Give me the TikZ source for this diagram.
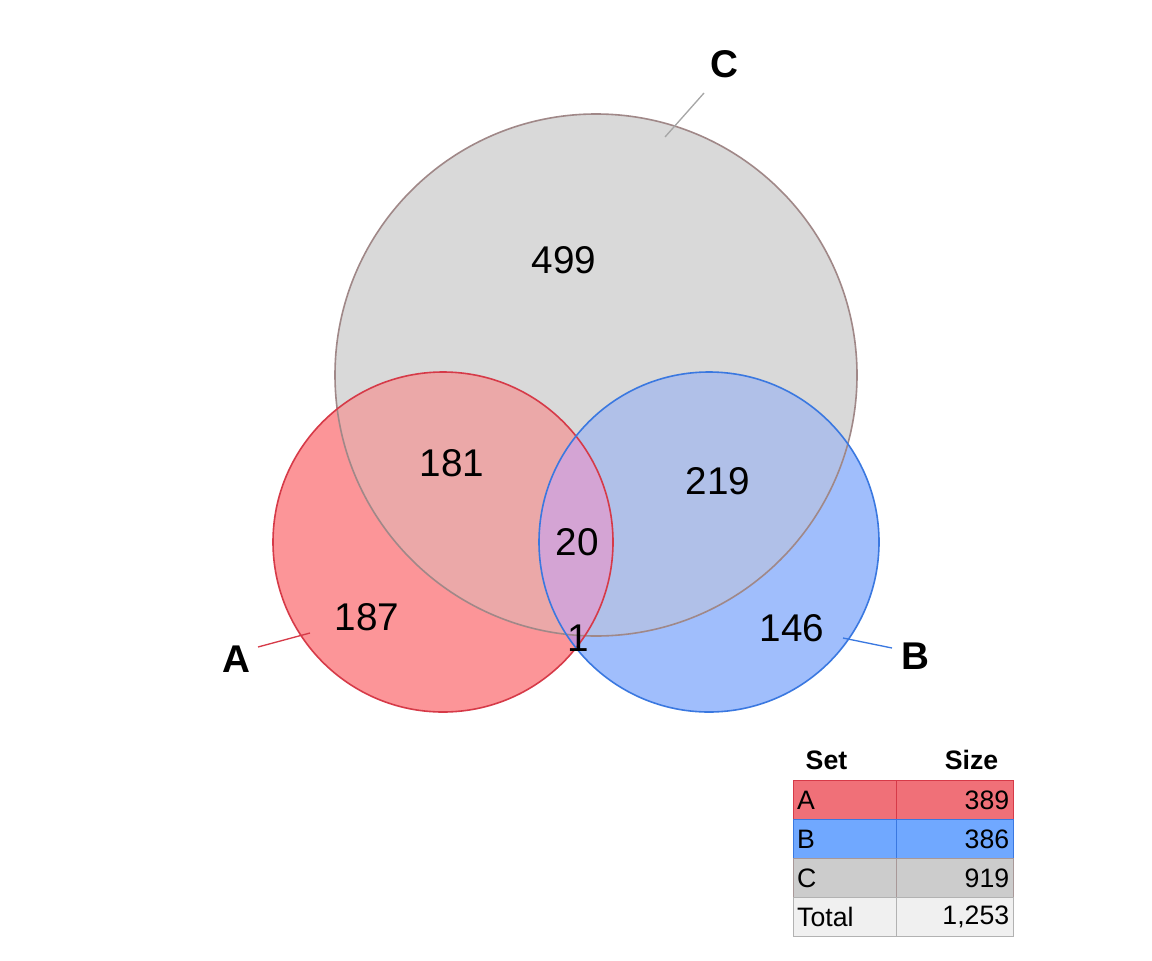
\documentclass[tikz,border=0pt]{standalone}
\usepackage{fontspec}
\setmainfont{Liberation Sans}
\begin{document}
\begin{tikzpicture}[x=0.75pt,y=-0.75pt,
  num/.style={font=\fontsize{29}{30}\selectfont},
  lab/.style={font=\fontsize{29}{30}\selectfont\bfseries},
  cell/.style={draw,minimum width=88.5pt,minimum height=29pt,inner sep=3pt,font=\fontsize{20}{22}\selectfont},
  hd/.style={font=\fontsize{20}{22}\selectfont\bfseries}]
\useasboundingbox (0,0) rectangle (1152,960);
\def\CC{(596,375) circle (261)}
\def\AC{(443,542) circle (170)}
\def\BC{(709,542) circle (170)}
\definecolor{ao}{HTML}{FC9598}\definecolor{bo}{HTML}{A0BEFC}\definecolor{co}{HTML}{D9D9D9}
\definecolor{ac}{HTML}{EBA8A8}\definecolor{bc}{HTML}{B0C0E8}\definecolor{abc}{HTML}{D4A4D4}
\definecolor{ab}{HTML}{C890D0}
\definecolor{aline}{HTML}{D63A48}\definecolor{bline}{HTML}{3A78E0}\definecolor{cline}{HTML}{A08888}
\fill[co] \CC; \fill[ao] \AC; \fill[bo] \BC;
\begin{scope}\clip \AC; \fill[ac] \CC; \fill[ab] \BC; \end{scope}
\begin{scope}\clip \BC; \fill[bc] \CC; \end{scope}
\begin{scope}\clip \AC; \clip \BC; \fill[abc] \CC; \end{scope}
\draw[cline,line width=1.2pt] \CC;
\draw[aline,line width=1.2pt] \AC;
\draw[bline,line width=1.2pt] \BC;
\node[num] (n499) at (564,260) {499};
\node[num] (n181) at (452,463) {181};
\node[num] (n219) at (718,481) {219};
\node[num] (n20) at (577,542) {20};
\node[num] (n187) at (367,617) {187};
\node[num] (n146) at (792,628) {146};
\node[num] (n1) at (578,638) {1};
\node[lab] (lC) at (724,64) {C};
\node[lab] (lA) at (236,659) {A};
\node[lab] (lB) at (915,656) {B};
\coordinate (cA) at (310,633); \coordinate (cB) at (843,638); \coordinate (cC) at (665,137);
\draw[gray!70,line width=1pt] (cC) -- (704,93);
\draw[aline,line width=1pt] (cA) -- (258,647);
\draw[bline,line width=1pt] (cB) -- (892,648);
\node[hd,anchor=west] (hs) at (801,760) {Set};
\node[hd,anchor=east] (hz) at (1003,760) {Size};
\definecolor{ta}{HTML}{F07078}\definecolor{tb}{HTML}{70A8FF}\definecolor{tc}{HTML}{CCCCCC}\definecolor{tt}{HTML}{F0F0F0}
\definecolor{tcl}{HTML}{A89898}
\foreach \y/\f/\d/\n/\v/\k in {800/ta/aline/A/389/ra,839/tb/bline/B/386/rb,878/tc/tcl/C/919/rc,917/tt/gray!60/Total/{1,253}/rt}{
  \node[cell,fill=\f,draw=\d,minimum width=77pt,text width=71pt,align=left] (\k1) at (844.5,\y) {\n};
  \node[cell,fill=\f,draw=\d,minimum width=88pt,text width=82pt,align=right] (\k2) at (954.5,\y) {\v};
}
\end{tikzpicture}
\end{document}
